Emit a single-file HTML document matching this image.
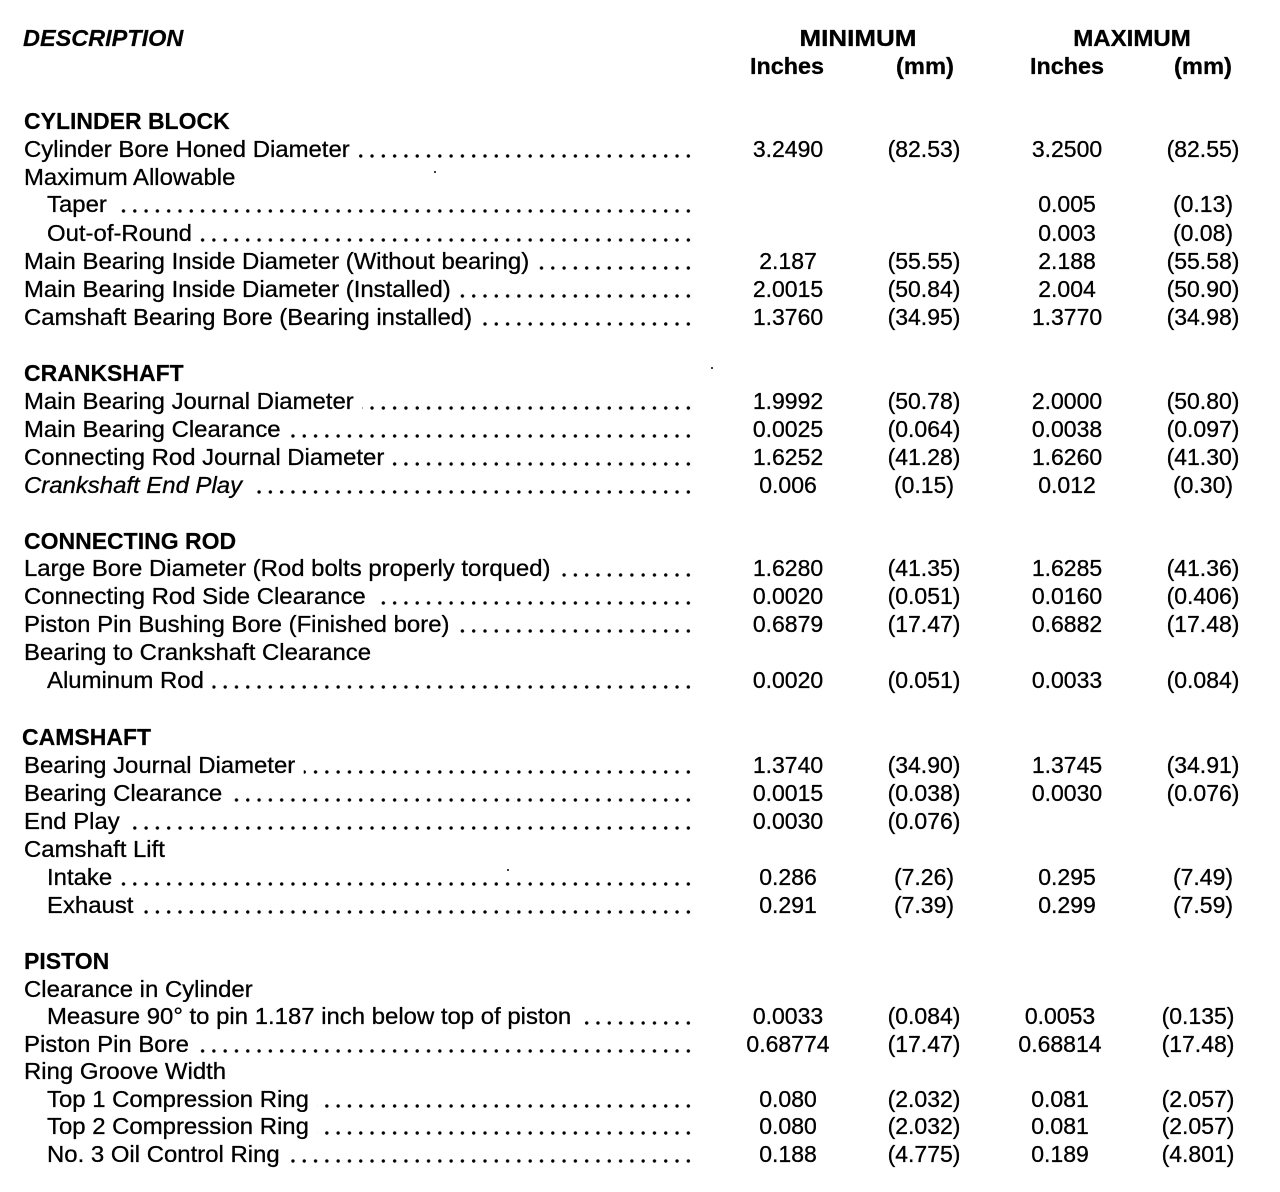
<!DOCTYPE html>
<html>
<head>
<meta charset="utf-8">
<style>
  html, body { margin:0; padding:0; }
  body {
    width:1280px; height:1192px; position:relative; overflow:hidden;
    background:#fff; color:#000;
    font-family:"Liberation Sans", Arial, sans-serif;
  }
  .r { position:absolute; left:0; width:1280px; height:28px; line-height:28px; font-size:23px; white-space:nowrap; -webkit-text-stroke:0.3px #000; }
  .lead {
    position:absolute; left:24px; top:0; width:670px; height:28px;
    background: radial-gradient(circle, #000 0, #000 1.4px, rgba(0,0,0,0) 2px) right 0 top 17.5px / 11.3px 6px repeat-x;
  }
  .lead.li { left:47px; width:647px; }
  .l { position:absolute; left:24px; top:0; display:inline-block; transform:scaleX(1.04); transform-origin:0 50%; background:#fff; padding-right:8px; }
  .in { left:47px; }
  .h { font-weight:bold; transform:scaleX(1.0); -webkit-text-stroke:0.2px #000; }
  .it { font-style:italic; }
  .n { position:absolute; top:0; width:200px; text-align:center; transform:scaleX(1.0); transform-origin:50% 50%; }
  .a { left:688px; } .b { left:824px; } .c { left:967px; } .d { left:1103px; }
  .c2 { left:960px; } .d2 { left:1098px; }
  .hd { position:absolute; top:0; width:200px; text-align:center; font-weight:bold; transform-origin:50% 50%; }
  .speck { position:absolute; width:2px; height:2px; background:#000; border-radius:1px; }
</style>
</head>
<body>

<!-- header -->
<div class="r" style="top:24px">
  <span class="l h" style="font-style:italic; transform:scaleX(1.02); left:23px">DESCRIPTION</span>
  <span class="hd" style="left:758px; transform:scaleX(1.13)">MINIMUM</span>
  <span class="hd" style="left:1032px; transform:scaleX(1.045)">MAXIMUM</span>
</div>
<div class="r" style="top:52px">
  <span class="hd" style="left:687px; transform:scaleX(1.015)">Inches</span>
  <span class="hd" style="left:825px; transform:scaleX(1.03)">(mm)</span>
  <span class="hd" style="left:967px; transform:scaleX(1.015)">Inches</span>
  <span class="hd" style="left:1103px; transform:scaleX(1.03)">(mm)</span>
</div>

<!-- CYLINDER BLOCK -->
<div class="r" style="top:107px"><span class="l h">CYLINDER BLOCK</span></div>
<div class="r" style="top:135px"><div class="lead"></div><span class="l">Cylinder Bore Honed Diameter</span>
  <span class="n a">3.2490</span><span class="n b">(82.53)</span><span class="n c">3.2500</span><span class="n d">(82.55)</span></div>
<div class="r" style="top:163px"><span class="l">Maximum Allowable</span></div>
<div class="r" style="top:190px"><div class="lead li"></div><span class="l in">Taper</span>
  <span class="n c">0.005</span><span class="n d">(0.13)</span></div>
<div class="r" style="top:219px"><div class="lead li"></div><span class="l in">Out-of-Round</span>
  <span class="n c">0.003</span><span class="n d">(0.08)</span></div>
<div class="r" style="top:247px"><div class="lead"></div><span class="l">Main Bearing Inside Diameter (Without bearing)</span>
  <span class="n a">2.187</span><span class="n b">(55.55)</span><span class="n c">2.188</span><span class="n d">(55.58)</span></div>
<div class="r" style="top:275px"><div class="lead"></div><span class="l">Main Bearing Inside Diameter (Installed)</span>
  <span class="n a">2.0015</span><span class="n b">(50.84)</span><span class="n c">2.004</span><span class="n d">(50.90)</span></div>
<div class="r" style="top:303px"><div class="lead"></div><span class="l">Camshaft Bearing Bore (Bearing installed)</span>
  <span class="n a">1.3760</span><span class="n b">(34.95)</span><span class="n c">1.3770</span><span class="n d">(34.98)</span></div>

<!-- CRANKSHAFT -->
<div class="r" style="top:359px"><span class="l h">CRANKSHAFT</span></div>
<div class="r" style="top:387px"><div class="lead"></div><span class="l">Main Bearing Journal Diameter</span>
  <span class="n a">1.9992</span><span class="n b">(50.78)</span><span class="n c">2.0000</span><span class="n d">(50.80)</span></div>
<div class="r" style="top:415px"><div class="lead"></div><span class="l">Main Bearing Clearance</span>
  <span class="n a">0.0025</span><span class="n b">(0.064)</span><span class="n c">0.0038</span><span class="n d">(0.097)</span></div>
<div class="r" style="top:443px"><div class="lead"></div><span class="l">Connecting Rod Journal Diameter</span>
  <span class="n a">1.6252</span><span class="n b">(41.28)</span><span class="n c">1.6260</span><span class="n d">(41.30)</span></div>
<div class="r" style="top:471px"><div class="lead"></div><span class="l it">Crankshaft End Play</span>
  <span class="n a">0.006</span><span class="n b">(0.15)</span><span class="n c">0.012</span><span class="n d">(0.30)</span></div>

<!-- CONNECTING ROD -->
<div class="r" style="top:527px"><span class="l h">CONNECTING ROD</span></div>
<div class="r" style="top:554px"><div class="lead"></div><span class="l">Large Bore Diameter (Rod bolts properly torqued)</span>
  <span class="n a">1.6280</span><span class="n b">(41.35)</span><span class="n c">1.6285</span><span class="n d">(41.36)</span></div>
<div class="r" style="top:582px"><div class="lead"></div><span class="l">Connecting Rod Side Clearance</span>
  <span class="n a">0.0020</span><span class="n b">(0.051)</span><span class="n c">0.0160</span><span class="n d">(0.406)</span></div>
<div class="r" style="top:610px"><div class="lead"></div><span class="l">Piston Pin Bushing Bore (Finished bore)</span>
  <span class="n a">0.6879</span><span class="n b">(17.47)</span><span class="n c">0.6882</span><span class="n d">(17.48)</span></div>
<div class="r" style="top:638px"><span class="l">Bearing to Crankshaft Clearance</span></div>
<div class="r" style="top:666px"><div class="lead li"></div><span class="l in">Aluminum Rod</span>
  <span class="n a">0.0020</span><span class="n b">(0.051)</span><span class="n c">0.0033</span><span class="n d">(0.084)</span></div>

<!-- CAMSHAFT -->
<div class="r" style="top:723px"><span class="l h" style="left:22px">CAMSHAFT</span></div>
<div class="r" style="top:751px"><div class="lead"></div><span class="l">Bearing Journal Diameter</span>
  <span class="n a">1.3740</span><span class="n b">(34.90)</span><span class="n c">1.3745</span><span class="n d">(34.91)</span></div>
<div class="r" style="top:779px"><div class="lead"></div><span class="l">Bearing Clearance</span>
  <span class="n a">0.0015</span><span class="n b">(0.038)</span><span class="n c">0.0030</span><span class="n d">(0.076)</span></div>
<div class="r" style="top:807px"><div class="lead"></div><span class="l">End Play</span>
  <span class="n a">0.0030</span><span class="n b">(0.076)</span></div>
<div class="r" style="top:835px"><span class="l">Camshaft Lift</span></div>
<div class="r" style="top:863px"><div class="lead li"></div><span class="l in">Intake</span>
  <span class="n a">0.286</span><span class="n b">(7.26)</span><span class="n c">0.295</span><span class="n d">(7.49)</span></div>
<div class="r" style="top:891px"><div class="lead li"></div><span class="l in">Exhaust</span>
  <span class="n a">0.291</span><span class="n b">(7.39)</span><span class="n c">0.299</span><span class="n d">(7.59)</span></div>

<!-- PISTON -->
<div class="r" style="top:947px"><span class="l h">PISTON</span></div>
<div class="r" style="top:975px"><span class="l">Clearance in Cylinder</span></div>
<div class="r" style="top:1002px"><div class="lead li"></div><span class="l in">Measure 90° to pin 1.187 inch below top of piston</span>
  <span class="n a">0.0033</span><span class="n b">(0.084)</span><span class="n c2">0.0053</span><span class="n d2">(0.135)</span></div>
<div class="r" style="top:1030px"><div class="lead"></div><span class="l">Piston Pin Bore</span>
  <span class="n a">0.68774</span><span class="n b">(17.47)</span><span class="n c2">0.68814</span><span class="n d2">(17.48)</span></div>
<div class="r" style="top:1057px"><span class="l">Ring Groove Width</span></div>
<div class="r" style="top:1085px"><div class="lead li"></div><span class="l in">Top 1 Compression Ring</span>
  <span class="n a">0.080</span><span class="n b">(2.032)</span><span class="n c2">0.081</span><span class="n d2">(2.057)</span></div>
<div class="r" style="top:1112px"><div class="lead li"></div><span class="l in">Top 2 Compression Ring</span>
  <span class="n a">0.080</span><span class="n b">(2.032)</span><span class="n c2">0.081</span><span class="n d2">(2.057)</span></div>
<div class="r" style="top:1140px"><div class="lead li"></div><span class="l in">No. 3 Oil Control Ring</span>
  <span class="n a">0.188</span><span class="n b">(4.775)</span><span class="n c2">0.189</span><span class="n d2">(4.801)</span></div>

<!-- stray specks from scan -->
<div class="speck" style="left:434px; top:171px"></div>
<div class="speck" style="left:711px; top:367px"></div>
<div class="speck" style="left:507px; top:869px"></div>

</body>
</html>
